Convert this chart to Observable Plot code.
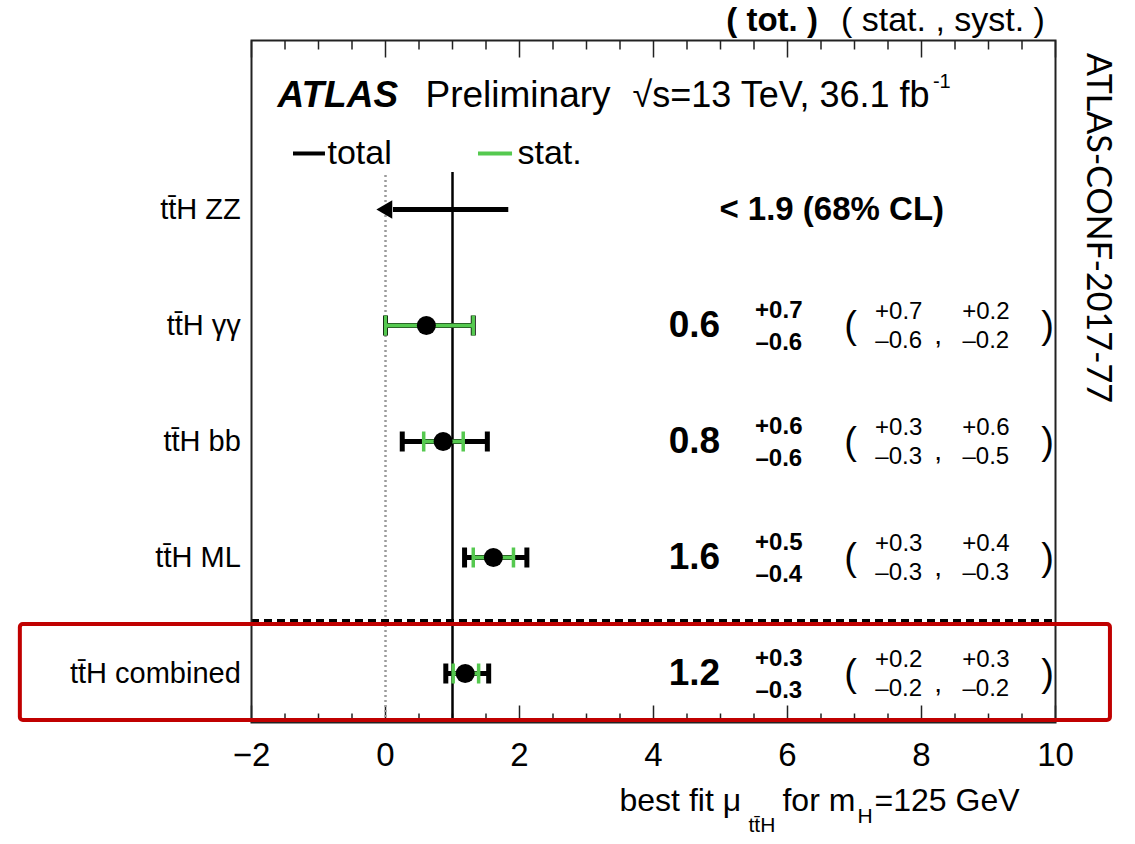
<!DOCTYPE html>
<html><head><meta charset="utf-8">
<script src="https://cdn.jsdelivr.net/npm/d3@7"></script>
<script src="https://cdn.jsdelivr.net/npm/@observablehq/plot@0.6"></script>
<style>body{margin:0;background:#fff;} #chart svg{display:block;}</style>
</head><body><div id="chart"></div>
<script>
// ---- data ----
const categories = ["tt̄H ZZ", "tt̄H γγ", "tt̄H bb", "tt̄H ML", "tt̄H combined"];
const rowPos     = [4, 3, 2, 1, 0];
const muCentral  = [null, 0.61, 0.86, 1.61, 1.19];
const totLow     = [null, 0.00, 0.25, 1.18, 0.90];
const totHigh    = [null, 1.31, 1.52, 2.11, 1.54];
const statLow    = [null, 0.00, 0.57, 1.31, 1.01];
const statHigh   = [null, 1.31, 1.16, 1.91, 1.39];
const muText     = [null, "0.6", "0.8", "1.6", "1.2"];
const totUp      = [null, "+0.7", "+0.6", "+0.5", "+0.3"];
const totDn      = [null, "–0.6", "–0.6", "–0.4", "–0.3"];
const statUp     = [null, "+0.7", "+0.3", "+0.3", "+0.2"];
const statDn     = [null, "–0.6", "–0.3", "–0.3", "–0.2"];
const systUp     = [null, "+0.2", "+0.6", "+0.4", "+0.3"];
const systDn     = [null, "–0.2", "–0.5", "–0.3", "–0.2"];
const zzLimit    = [{name: "tt̄H ZZ", pos: 4, from: 1.84, to: -0.06, label: "< 1.9 (68% CL)"}];
const majorTicks = [-2, 0, 2, 4, 6, 8, 10];
const minorTicks = d3.range(-2, 10.01, 0.5).filter(v => !majorTicks.includes(v));

// ---- layout constants (data coordinates) ----
const xDomain = [-2, 10];
const yDomain = [-0.4224, 5.457];
const lineTop = 4.32, sepY = 0.457;
const colMu = 4.61, colTot = 5.87, colOpen = 6.94, colStat = 7.66, colComma = 8.25, colSyst = 8.96, colClose = 9.88;
const highlight = [{x1: -5.45, x2: 10.82, y1: -0.405, y2: 0.422}];

const rows = categories.map((name, i) => ({
  name, pos: rowPos[i], mu: muCentral[i], totLow: totLow[i], totHigh: totHigh[i],
  statLow: statLow[i], statHigh: statHigh[i], muText: muText[i], totUp: totUp[i], totDn: totDn[i],
  statUp: statUp[i], statDn: statDn[i], systUp: systUp[i], systDn: systDn[i]
}));
const measured = rows.filter(d => d.mu != null);

const green = "#55c94f";
const symLen = size => Math.sqrt(size / Math.PI);
const tickDown = {draw(c, s) { const l = symLen(s); c.moveTo(0, 0); c.lineTo(0, l); }};
const tickUp   = {draw(c, s) { const l = symLen(s); c.moveTo(0, 0); c.lineTo(0, -l); }};
const capSym   = {draw(c, s) { const l = symLen(s); c.moveTo(0, -l); c.lineTo(0, l); }};

const chart = Plot.plot({
  width: 1135, height: 844,
  marginLeft: 251, marginRight: 80, marginTop: 40, marginBottom: 122,
  style: {fontFamily: "'Liberation Sans', Arial, sans-serif", color: "black", background: "white", overflow: "visible"},
  x: {domain: xDomain, label: null},
  y: {domain: yDomain, axis: null},
  marks: [
    // frame ticks
    Plot.dot(majorTicks, {x: d => d, frameAnchor: "top", symbol: tickDown, r: 17, stroke: "#222", strokeWidth: 1.5, fill: "none"}),
    Plot.dot(minorTicks, {x: d => d, frameAnchor: "top", symbol: tickDown, r: 9, stroke: "#222", strokeWidth: 1.5, fill: "none"}),
    Plot.dot(majorTicks, {x: d => d, frameAnchor: "bottom", symbol: tickUp, r: 17, stroke: "#222", strokeWidth: 1.5, fill: "none"}),
    Plot.dot(minorTicks, {x: d => d, frameAnchor: "bottom", symbol: tickUp, r: 9, stroke: "#222", strokeWidth: 1.5, fill: "none"}),
    Plot.axisX({ticks: majorTicks, tickSize: 0, tickPadding: 20, fontSize: 33, label: null,
      tickFormat: d => d < 0 ? "−" + Math.abs(d) : String(d)}),
    // reference lines
    Plot.ruleX([0], {y1: yDomain[0], y2: lineTop, stroke: "#9a9a9a", strokeWidth: 2.5, strokeDasharray: "2,3"}),
    Plot.ruleX([1], {y1: yDomain[0], y2: lineTop, stroke: "black", strokeWidth: 2.5}),
    Plot.ruleY([sepY], {stroke: "black", strokeWidth: 3, strokeDasharray: "8,5"}),
    // total error bars
    Plot.ruleY(measured, {y: "pos", x1: "totLow", x2: "totHigh", stroke: "black", strokeWidth: 5}),
    Plot.dot(measured, {x: "totLow", y: "pos", symbol: capSym, r: 10, stroke: "black", strokeWidth: 5, fill: "none"}),
    Plot.dot(measured, {x: "totHigh", y: "pos", symbol: capSym, r: 10, stroke: "black", strokeWidth: 5, fill: "none"}),
    // stat error bars
    Plot.ruleY(measured, {y: "pos", x1: "statLow", x2: "statHigh", stroke: green, strokeWidth: 4}),
    Plot.dot(measured, {x: "statLow", y: "pos", symbol: capSym, r: 10, stroke: green, strokeWidth: 3.5, fill: "none"}),
    Plot.dot(measured, {x: "statHigh", y: "pos", symbol: capSym, r: 10, stroke: green, strokeWidth: 3.5, fill: "none"}),
    // central values
    Plot.dot(measured, {x: "mu", y: "pos", r: 9.5, fill: "black"}),
    // ZZ upper limit arrow
    Plot.ruleY(zzLimit, {y: "pos", x1: "to", x2: "from", insetLeft: 12, stroke: "black", strokeWidth: 5}),
    Plot.dot(zzLimit, {x: "to", y: "pos", symbol: "triangle", rotate: -90, r: 6.8, dx: 5.5, fill: "black"}),
    Plot.text(zzLimit, {x: 6.66, y: "pos", text: "label", fontSize: 33, fontWeight: "bold"}),
    // row labels
    Plot.text(rows, {x: -2.16, y: "pos", text: "name", textAnchor: "end", fontSize: 29}),
    // value columns
    Plot.text(measured, {x: colMu, y: "pos", text: "muText", fontSize: 37, fontWeight: "bold"}),
    Plot.text(measured, {x: colTot, y: "pos", text: "totUp", dy: -15, fontSize: 24, fontWeight: "bold"}),
    Plot.text(measured, {x: colTot, y: "pos", text: "totDn", dy: 17, fontSize: 24, fontWeight: "bold"}),
    Plot.text(measured, {x: colOpen, y: "pos", text: () => "(", fontSize: 38}),
    Plot.text(measured, {x: colStat, y: "pos", text: "statUp", dy: -14, fontSize: 24}),
    Plot.text(measured, {x: colStat, y: "pos", text: "statDn", dy: 15, fontSize: 24}),
    Plot.text(measured, {x: colComma, y: "pos", text: () => ",", dy: 10, fontSize: 28}),
    Plot.text(measured, {x: colSyst, y: "pos", text: "systUp", dy: -14, fontSize: 24}),
    Plot.text(measured, {x: colSyst, y: "pos", text: "systDn", dy: 15, fontSize: 24}),
    Plot.text(measured, {x: colClose, y: "pos", text: () => ")", fontSize: 38}),
    // column header
    Plot.text(["( tot. )"], {x: 5.77, y: 5.63, text: d => d, fontSize: 33, fontWeight: "bold"}),
    Plot.text(["( stat. , syst. )"], {x: 8.32, y: 5.63, text: d => d, fontSize: 34}),
    // ATLAS label
    Plot.text(["ATLAS"], {x: -1.612, y: 4.983, text: d => d, textAnchor: "start", fontSize: 37, fontWeight: "bold", fontStyle: "italic"}),
    Plot.text(["Preliminary"], {x: 0.597, y: 4.983, text: d => d, textAnchor: "start", fontSize: 37}),
    Plot.text(["√s=13 TeV, 36.1 fb"], {x: 3.687, y: 4.983, text: d => d, textAnchor: "start", fontSize: 36}),
    Plot.text(["-1"], {x: 8.17, y: 5.1, text: d => d, textAnchor: "start", fontSize: 20}),
    // legend
    Plot.ruleY([4.483], {x1: -1.373, x2: -0.896, stroke: "black", strokeWidth: 4}),
    Plot.text(["total"], {x: -0.866, y: 4.483, text: d => d, textAnchor: "start", fontSize: 34}),
    Plot.ruleY([4.483], {x1: 1.388, x2: 1.896, stroke: green, strokeWidth: 4}),
    Plot.text(["stat."], {x: 1.97, y: 4.483, text: d => d, textAnchor: "start", fontSize: 34}),
    // side label
    Plot.text(["ATLAS-CONF-2017-77"], {x: 10.63, y: 3.84, text: d => d, rotate: 90, fontSize: 34, fontFamily: "Lato, 'Open Sans', sans-serif"}),
    // x axis label
    Plot.text(["best fit μ"], {x: 3.493, y: -1.095, text: d => d, textAnchor: "start", fontSize: 32}),
    Plot.text(["tt̄H"], {x: 5.418, y: -1.31, text: d => d, textAnchor: "start", fontSize: 21}),
    Plot.text(["for m"], {x: 5.925, y: -1.095, text: d => d, textAnchor: "start", fontSize: 32}),
    Plot.text(["H"], {x: 7.045, y: -1.23, text: d => d, textAnchor: "start", fontSize: 21}),
    Plot.text(["=125 GeV"], {x: 7.299, y: -1.095, text: d => d, textAnchor: "start", fontSize: 32}),
    // frame and highlight box
    Plot.frame({stroke: "#222", strokeWidth: 2}),
    Plot.rect(highlight, {x1: "x1", x2: "x2", y1: "y1", y2: "y2", fill: "none", stroke: "#c00000", strokeWidth: 4, rx: 3})
  ]
});
document.getElementById("chart").appendChild(chart);
</script>
</body></html>
